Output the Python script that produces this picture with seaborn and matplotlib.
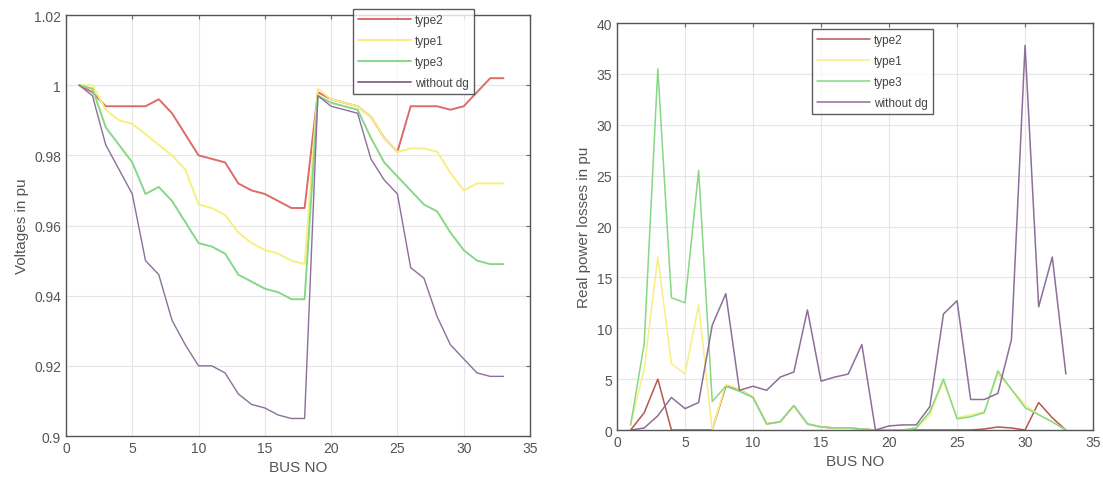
import matplotlib
matplotlib.use('Agg')
import matplotlib.pyplot as plt
import matplotlib.ticker as mticker
import numpy as np
import pandas as pd
import seaborn as sns

bus = list(range(1, 34))
series = ['type2', 'type1', 'type3', 'without dg']

volt_type2 = [1.000, 0.998, 0.994, 0.994, 0.994, 0.994, 0.996, 0.992, 0.986, 0.980,
              0.979, 0.978, 0.972, 0.970, 0.969, 0.967, 0.965, 0.965, 0.998, 0.996,
              0.995, 0.994, 0.991, 0.985, 0.981, 0.994, 0.994, 0.994, 0.993, 0.994,
              0.998, 1.002, 1.002]
volt_type1 = [1.000, 1.000, 0.993, 0.990, 0.989, 0.986, 0.983, 0.980, 0.976, 0.966,
              0.965, 0.963, 0.958, 0.955, 0.953, 0.952, 0.950, 0.949, 0.999, 0.996,
              0.995, 0.994, 0.991, 0.985, 0.981, 0.982, 0.982, 0.981, 0.975, 0.970,
              0.972, 0.972, 0.972]
volt_type3 = [1.000, 0.999, 0.988, 0.983, 0.978, 0.969, 0.971, 0.967, 0.961, 0.955,
              0.954, 0.952, 0.946, 0.944, 0.942, 0.941, 0.939, 0.939, 0.997, 0.995,
              0.994, 0.993, 0.985, 0.978, 0.974, 0.970, 0.966, 0.964, 0.958, 0.953,
              0.950, 0.949, 0.949]
volt_nodg = [1.000, 0.997, 0.983, 0.976, 0.969, 0.950, 0.946, 0.933, 0.926, 0.920,
             0.920, 0.918, 0.912, 0.909, 0.908, 0.906, 0.905, 0.905, 0.997, 0.994,
             0.993, 0.992, 0.979, 0.973, 0.969, 0.948, 0.945, 0.934, 0.926, 0.922,
             0.918, 0.917, 0.917]

loss_type2 = [0.0, 1.7, 5.0, 0.0, 0.0, 0.0, 0.0, 4.3, 4.0, 3.2,
              0.6, 0.8, 2.4, 0.6, 0.3, 0.2, 0.2, 0.1, 0.0, 0.0,
              0.0, 0.0, 0.0, 0.0, 0.0, 0.0, 0.1, 0.3, 0.2, 0.0,
              2.7, 1.2, 0.0]
loss_type1 = [0.5, 6.0, 17.0, 6.5, 5.5, 12.3, 0.0, 4.5, 4.0, 3.2,
              0.6, 0.8, 2.4, 0.6, 0.3, 0.2, 0.2, 0.1, 0.0, 0.0,
              0.0, 0.2, 1.5, 4.8, 1.2, 1.5, 1.8, 5.5, 4.0, 2.5,
              1.5, 0.8, 0.0]
loss_type3 = [0.5, 8.5, 35.5, 13.0, 12.5, 25.5, 2.8, 4.3, 3.8, 3.2,
              0.6, 0.8, 2.4, 0.6, 0.3, 0.2, 0.2, 0.1, 0.0, 0.0,
              0.0, 0.2, 1.8, 5.0, 1.1, 1.3, 1.7, 5.8, 4.0, 2.2,
              1.5, 0.8, 0.0]
loss_nodg = [0.0, 0.2, 1.4, 3.2, 2.1, 2.7, 10.3, 13.4, 3.9, 4.3,
             3.9, 5.2, 5.7, 11.8, 4.8, 5.2, 5.5, 8.4, 0.0, 0.4,
             0.5, 0.5, 2.3, 11.4, 12.7, 3.0, 3.0, 3.6, 8.9, 37.8,
             12.1, 17.0, 5.5]

volt_df = pd.DataFrame({
    'bus': bus * 4,
    'value': volt_type2 + volt_type1 + volt_type3 + volt_nodg,
    'series': np.repeat(series, len(bus)),
})
loss_df = pd.DataFrame({
    'bus': bus * 4,
    'value': loss_type2 + loss_type1 + loss_type3 + loss_nodg,
    'series': np.repeat(series, len(bus)),
})

palette = {'type2': '#dd6b6b', 'type1': '#f7ef80', 'type3': '#86d886', 'without dg': '#8c6f9a'}
right_palette = {'type2': '#b5574f', 'type1': '#f7ef80', 'type3': '#86d886', 'without dg': '#8c6f9a'}

sns.set_style('white')
plt.rcParams['font.family'] = ['Liberation Sans', 'DejaVu Sans']
text_col = '#555555'

fig = plt.figure(figsize=(11.03, 4.89), dpi=100)
ax1 = fig.add_axes([0.0598, 0.1063, 0.4207, 0.8609])
ax2 = fig.add_axes([0.5594, 0.1186, 0.4316, 0.8323])


def style_axes(ax):
    ax.grid(True, color='#e6e6e6', linewidth=0.8)
    ax.tick_params(direction='in', top=True, right=True, labelsize=10,
                   colors='#666666', labelcolor=text_col, length=3)
    for s in ax.spines.values():
        s.set_color('#555555')
        s.set_linewidth(1.0)
    ax.xaxis.set_major_formatter(mticker.FuncFormatter(lambda v, p: f'{v:g}'))
    ax.yaxis.set_major_formatter(mticker.FuncFormatter(lambda v, p: f'{v:g}'))


sns.lineplot(data=volt_df, x='bus', y='value', hue='series', hue_order=series,
             palette=palette, linewidth=1.4, ax=ax1)
ax1.lines[3].set_linewidth(1.0)
ax1.set_xlim(0, 35)
ax1.set_ylim(0.9, 1.02)
ax1.set_xticks(range(0, 36, 5))
ax1.set_yticks(np.arange(0.9, 1.021, 0.02))
ax1.set_xlabel('BUS NO', fontsize=11, color=text_col)
ax1.set_ylabel('Voltages in pu', fontsize=11, color=text_col)
style_axes(ax1)

sns.lineplot(data=loss_df, x='bus', y='value', hue='series', hue_order=series,
             palette=right_palette, linewidth=1.1, ax=ax2)
ax2.set_xlim(0, 35)
ax2.set_ylim(0, 40)
ax2.set_xticks(range(0, 36, 5))
ax2.set_yticks(range(0, 41, 5))
ax2.set_xlabel('BUS NO', fontsize=11, color=text_col)
ax2.set_ylabel('Real power losses in pu', fontsize=11, color=text_col)
style_axes(ax2)

for ax, anchor in [(ax1, (353 / 1103, 1 - 10 / 489)), (ax2, (812 / 1103, 1 - 30 / 489))]:
    leg = ax.legend(title=None, loc='upper left', bbox_to_anchor=anchor,
                    bbox_transform=fig.transFigure, fontsize=8.5, handlelength=4.5,
                    frameon=True, fancybox=False, borderaxespad=0,
                    labelspacing=0.75, handletextpad=0.3, borderpad=0.45)
    leg.get_frame().set_edgecolor('#333333')
    leg.get_frame().set_linewidth(1.0)
    for t in leg.get_texts():
        t.set_color('#444444')

fig.savefig('out.png', dpi=100)
